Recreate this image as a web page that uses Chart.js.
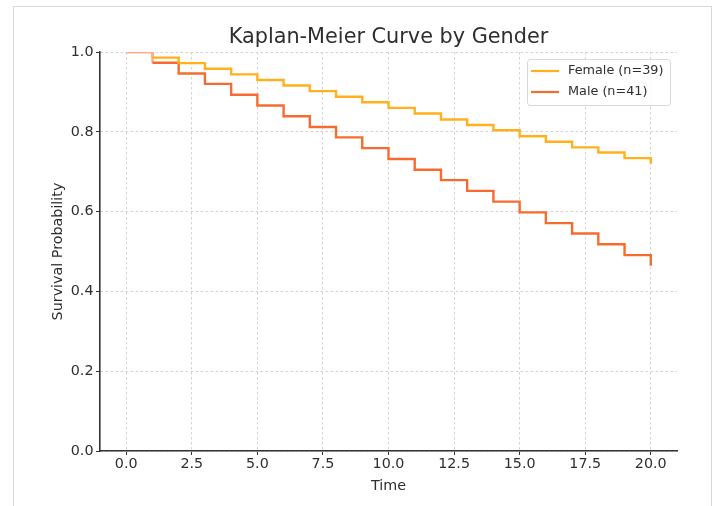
<!DOCTYPE html>
<html><head><meta charset="utf-8">
<script src="https://cdn.jsdelivr.net/npm/chart.js@4"></script>
<style>
html,body{margin:0;padding:0;background:#fff;}
#wrap{position:relative;width:720px;height:506px;overflow:hidden;background:#fff;}
#frame{position:absolute;left:13px;top:6px;width:699px;height:530px;border:1px solid #d9d9d9;box-sizing:border-box;pointer-events:none;}
canvas{position:absolute;left:0;top:0;}
</style></head><body>
<div id="wrap"><canvas id="c" width="720" height="506"></canvas><div id="frame"></div></div>
<script>
const chartTitle = 'Kaplan-Meier Curve by Gender';
const xAxisTitle = 'Time';
const yAxisTitle = 'Survival Probability';
const times = [0,1,2,3,4,5,6,7,8,9,10,11,12,13,14,15,16,17,18,19,20];
const femaleSurvival = [1.0,0.986,0.972,0.958,0.944,0.930,0.916,0.902,0.888,0.874,0.860,0.846,0.831,0.817,0.804,0.789,0.775,0.761,0.748,0.734,0.720];
const maleSurvival = [1.0,0.973,0.946,0.920,0.893,0.866,0.839,0.812,0.786,0.759,0.732,0.705,0.679,0.652,0.625,0.598,0.571,0.545,0.518,0.491,0.464];
const seriesLabels = ['Female (n=39)','Male (n=41)'];
const seriesColors = ['rgb(255,176,28)','rgb(246,108,48)'];
const xTicks = [0,2.5,5,7.5,10,12.5,15,17.5,20];
const yTicks = [0,0.2,0.4,0.6,0.8,1.0];

const FONT = 'DejaVu Sans';
const TXT = '#2e2e2e';

function toPoints(ys){ return times.map((t,i)=>({x:t,y:ys[i]})); }

const titlePlugin = {
  id:'kmTitle',
  afterDraw(chart){
    const ctx = chart.ctx, a = chart.chartArea;
    ctx.save();
    ctx.font = '20.8px "' + FONT + '"';
    ctx.fillStyle = TXT;
    ctx.textAlign = 'center';
    ctx.textBaseline = 'middle';
    ctx.fillText(chartTitle, (a.left + a.right)/2, 37.5);
    ctx.restore();
  }
};

const legendPlugin = {
  id:'kmLegend',
  afterDraw(chart){
    const ctx = chart.ctx, a = chart.chartArea;
    const w = 143, h = 46;
    const x0 = a.right - 7 - w, y0 = a.top + 7;
    ctx.save();
    ctx.beginPath();
    if (ctx.roundRect) ctx.roundRect(x0+0.5, y0+0.5, w, h, 3); else ctx.rect(x0+0.5,y0+0.5,w,h);
    ctx.fillStyle = 'rgba(255,255,255,0.85)';
    ctx.fill();
    ctx.strokeStyle = '#d8d8d8';
    ctx.lineWidth = 1;
    ctx.stroke();
    ctx.font = '12.8px "' + FONT + '"';
    ctx.textBaseline = 'middle';
    ctx.textAlign = 'left';
    chart.data.datasets.forEach((ds,i)=>{
      const y = y0 + 12 + i*21;
      ctx.beginPath();
      ctx.moveTo(x0+4, y); ctx.lineTo(x0+32, y);
      ctx.strokeStyle = ds.borderColor; ctx.lineWidth = 2.2; ctx.stroke();
      ctx.fillStyle = TXT;
      ctx.fillText(ds.label, x0+41, y);
    });
    ctx.restore();
  }
};

const firstSeg = 'rgb(255,172,140)';

new Chart(document.getElementById('c'), {
  type:'line',
  data:{
    datasets:[
      {label:seriesLabels[0], data:toPoints(femaleSurvival), borderColor:seriesColors[0], backgroundColor:seriesColors[0], borderWidth:2.4, pointRadius:0, stepped:'before', fill:false,
       segment:{borderColor: c => c.p0DataIndex===0 ? firstSeg : undefined}},
      {label:seriesLabels[1], data:toPoints(maleSurvival), borderColor:seriesColors[1], backgroundColor:seriesColors[1], borderWidth:2.4, pointRadius:0, stepped:'before', fill:false,
       segment:{borderColor: c => c.p0DataIndex===0 ? firstSeg : undefined}}
    ]
  },
  options:{
    responsive:false, animation:false, devicePixelRatio:1,
    layout:{padding:{left:0,top:52,right:43,bottom:0}},
    plugins:{legend:{display:false}, title:{display:false}, tooltip:{enabled:false}},
    scales:{
      x:{
        type:'linear', min:-1, max:21,
        afterBuildTicks: s => { s.ticks = xTicks.map(v=>({value:v})); },
        afterFit: s => { s.height = 55; },
        ticks:{callback: v => Number(v).toFixed(1), font:{family:FONT,size:14.3}, color:TXT, padding:1, maxRotation:0, autoSkip:false},
        grid:{color:'#d2d2d2', lineWidth:1, tickLength:4, tickColor:'#333', tickWidth:1},
        border:{display:true, color:'#333', width:1.6, dash:[2.5,2.5]},
        title:{display:true, text:xAxisTitle, font:{family:FONT,size:14.3}, color:TXT, padding:{top:0,bottom:11}}
      },
      y:{
        type:'linear', min:0, max:1,
        afterBuildTicks: s => { s.ticks = yTicks.map(v=>({value:v})); },
        afterFit: s => { s.width = 100; },
        ticks:{callback: v => Number(v).toFixed(1), font:{family:FONT,size:14.3}, color:TXT, padding:2.5, autoSkip:false},
        grid:{color:'#d2d2d2', lineWidth:1, tickLength:4, tickColor:'#333', tickWidth:1},
        border:{display:true, color:'#333', width:1.6, dash:[2.5,2.5]},
        title:{display:true, text:yAxisTitle, font:{family:FONT,size:14.3}, color:TXT, padding:{top:49.5,bottom:0}}
      }
    }
  },
  plugins:[titlePlugin, legendPlugin]
});
</script>
</body></html>
